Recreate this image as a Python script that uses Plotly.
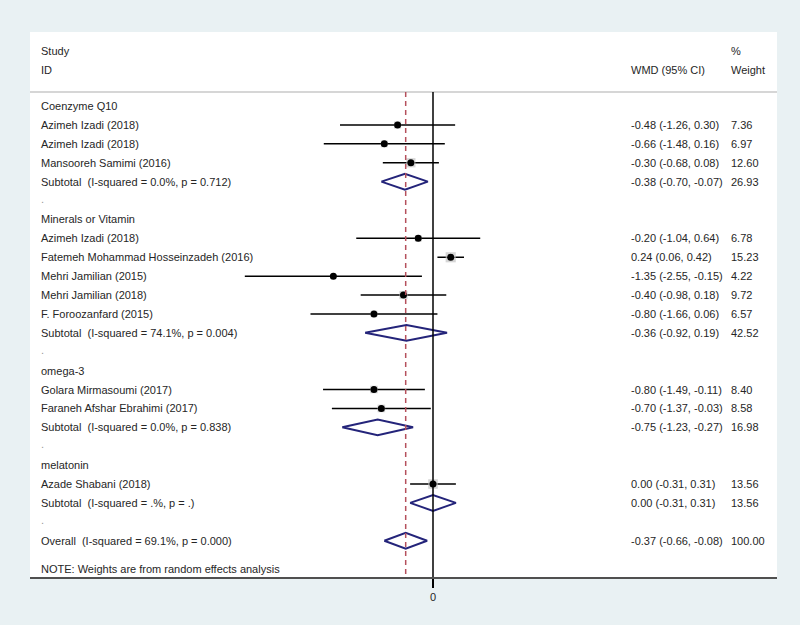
import plotly.graph_objects as go

# ---- data ----
groups = ["Coenzyme Q10", "Minerals or Vitamin", "omega-3", "melatonin"]
study_names = [
    ["Azimeh Izadi (2018)", "Azimeh Izadi (2018)", "Mansooreh Samimi (2016)"],
    ["Azimeh Izadi (2018)", "Fatemeh Mohammad Hosseinzadeh (2016)", "Mehri Jamilian (2015)",
     "Mehri Jamilian (2018)", "F. Foroozanfard (2015)"],
    ["Golara Mirmasoumi (2017)", "Faraneh Afshar Ebrahimi (2017)"],
    ["Azade Shabani (2018)"],
]
study_est = [[-0.48, -0.66, -0.30], [-0.20, 0.24, -1.35, -0.40, -0.80], [-0.80, -0.70], [0.00]]
study_lo = [[-1.26, -1.48, -0.68], [-1.04, 0.06, -2.55, -0.98, -1.66], [-1.49, -1.37], [-0.31]]
study_hi = [[0.30, 0.16, 0.08], [0.64, 0.42, -0.15, 0.18, 0.06], [-0.11, -0.03], [0.31]]
study_w = [[7.36, 6.97, 12.60], [6.78, 15.23, 4.22, 9.72, 6.57], [8.40, 8.58], [13.56]]

sub_i2 = ["0.0%", "74.1%", "0.0%", ".%"]
sub_p = ["0.712", "0.004", "0.838", "."]
sub_est = [-0.38, -0.36, -0.75, 0.00]
sub_lo = [-0.70, -0.92, -1.23, -0.31]
sub_hi = [-0.07, 0.19, -0.27, 0.31]
sub_w = [26.93, 42.52, 16.98, 13.56]

overall_label = "Overall\u00a0 (I-squared = 69.1%, p = 0.000)"
overall_est, overall_lo, overall_hi, overall_w = -0.37, -0.66, -0.08, 100.00
note = "NOTE: Weights are from random effects analysis"

# ---- layout constants ----
W, H = 800, 625
L, R, T, B = 30, 23, 32, 48
zero_px, px_per_unit = 433, 73.8
x_range = [(L - zero_px) / px_per_unit, (W - R - zero_px) / px_per_unit]
y_top, y_bot = -3.92, 24.92
header_line_y = -0.74
dh = 0.42  # diamond half-height (rows)

bg = "#e9f1f3"
txt_color = "#262626"
font_family = "Liberation Sans, Arial, sans-serif"
fs = 11
x_left, x_wmd, x_wt = (39 - L) / (W - L - R), (629 - L) / (W - L - R), (729 - L) / (W - L - R)

fig = go.Figure()
annotations = []

def add_text(xp, y, text):
    annotations.append(dict(x=xp, y=y, xref="paper", yref="y", text=text, showarrow=False,
                            xanchor="left", yanchor="middle",
                            font=dict(family=font_family, size=fs, color=txt_color)))

add_text(x_left, -2.9, "Study")
add_text(x_left, -1.9, "ID")
add_text(x_wmd, -1.9, "WMD (95% CI)")
add_text(x_wt, -2.9, "%")
add_text(x_wt, -1.9, "Weight")

pt_x, pt_y, pt_w = [], [], []
ci_x, ci_y = [], []
dia_x, dia_y = [], []

row = 0
for g in range(len(groups)):
    add_text(x_left, row, groups[g])
    row += 1
    for i, name in enumerate(study_names[g]):
        e, lo, hi, w = study_est[g][i], study_lo[g][i], study_hi[g][i], study_w[g][i]
        add_text(x_left, row, name)
        add_text(x_wmd, row, f"{e:.2f} ({lo:.2f}, {hi:.2f})")
        add_text(x_wt, row, f"{w:.2f}")
        pt_x.append(e); pt_y.append(row); pt_w.append(w)
        ci_x += [lo, hi, None]; ci_y += [row, row, None]
        row += 1
    add_text(x_left, row, f"Subtotal\u00a0 (I-squared = {sub_i2[g]}, p = {sub_p[g]})")
    add_text(x_wmd, row, f"{sub_est[g]:.2f} ({sub_lo[g]:.2f}, {sub_hi[g]:.2f})")
    add_text(x_wt, row, f"{sub_w[g]:.2f}")
    dia_x += [sub_lo[g], sub_est[g], sub_hi[g], sub_est[g], sub_lo[g], None]
    dia_y += [row, row - dh, row, row + dh, row, None]
    row += 1
    add_text(x_left, row - 0.1, "<span style='color:#999'>.</span>")
    row += 1

add_text(x_left, row, overall_label)
add_text(x_wmd, row, f"{overall_est:.2f} ({overall_lo:.2f}, {overall_hi:.2f})")
add_text(x_wt, row, f"{overall_w:.2f}")
dia_x += [overall_lo, overall_est, overall_hi, overall_est, overall_lo, None]
dia_y += [row, row - dh, row, row + dh, row, None]
add_text(x_left, row + 1.5, note)

# CI lines
fig.add_trace(go.Scatter(x=ci_x, y=ci_y, mode="lines", line=dict(color="black", width=1.5),
                         hoverinfo="skip", showlegend=False))
# weight boxes
fig.add_trace(go.Scatter(x=pt_x, y=pt_y, mode="markers",
                         marker=dict(symbol="square", size=[2.6 * w ** 0.5 for w in pt_w],
                                     color="#c4c4c4", line=dict(width=0)),
                         hoverinfo="skip", showlegend=False))
# point estimates
fig.add_trace(go.Scatter(x=pt_x, y=pt_y, mode="markers",
                         marker=dict(symbol="circle", size=7, color="black"),
                         showlegend=False))
# diamonds
fig.add_trace(go.Scatter(x=dia_x, y=dia_y, mode="lines", line=dict(color="#24247a", width=2),
                         hoverinfo="skip", showlegend=False))

shapes = [
    dict(type="line", xref="paper", yref="y", x0=0, x1=1, y0=header_line_y, y1=header_line_y,
         line=dict(color="#c8c8c8", width=1.5)),
    dict(type="line", xref="x", yref="y", x0=0, x1=0, y0=header_line_y, y1=y_bot,
         line=dict(color="black", width=1.5)),
    dict(type="line", xref="x", yref="y", x0=overall_est, x1=overall_est, y0=header_line_y, y1=y_bot,
         line=dict(color="#b5505c", width=1.5, dash="5px,4px")),
]

fig.update_layout(
    width=W, height=H,
    margin=dict(l=L, r=R, t=T, b=B),
    paper_bgcolor=bg, plot_bgcolor="white",
    annotations=annotations, shapes=shapes,
    xaxis=dict(range=x_range, showgrid=False, zeroline=False, showline=True,
               linecolor="#505050", linewidth=1.5, ticks="outside", ticklen=9,
               tickwidth=1.5, tickcolor="black", tickvals=[0], ticktext=["0"],
               tickfont=dict(family=font_family, size=fs, color=txt_color), fixedrange=True),
    yaxis=dict(range=[y_bot, y_top], visible=False, fixedrange=True),
)

fig.write_html(
    "out.html",
    config={"displayModeBar": False},
    post_script=("document.body.style.margin='0';document.body.style.padding='0';"
                 "document.body.style.overflow='hidden';"
                 f"document.body.style.background='{bg}';"),
)
